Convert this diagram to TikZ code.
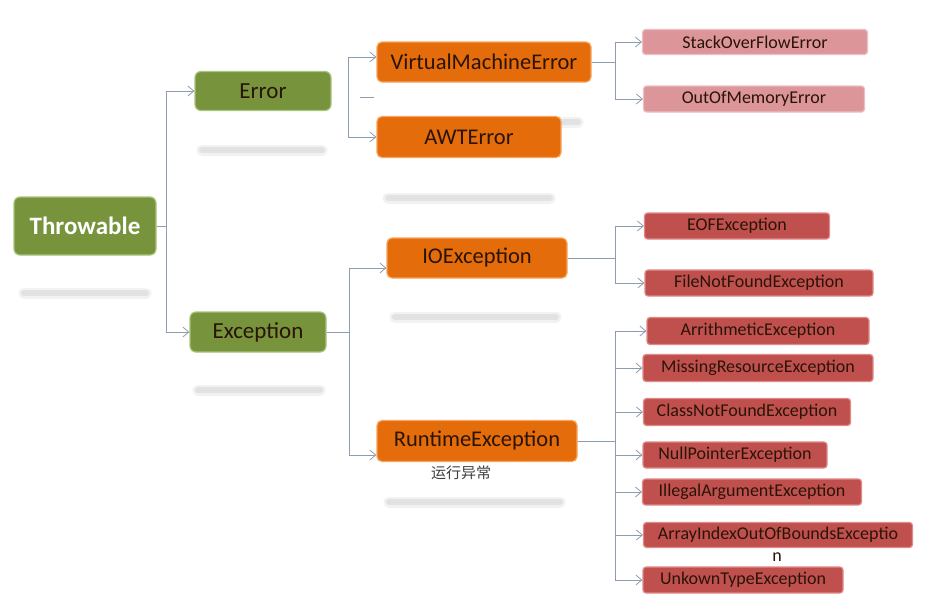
\documentclass[tikz,border=0pt]{standalone}
\usepackage{fontspec}
\setmainfont{Carlito}
\newfontfamily\cjk{Noto Sans CJK SC}
\usetikzlibrary{arrows.meta}
\definecolor{grn}{HTML}{77933C}
\definecolor{grnb}{HTML}{A9C47F}
\definecolor{org}{HTML}{E46C0A}
\definecolor{orgb}{HTML}{F7A35C}
\definecolor{redb}{HTML}{C0504D}
\definecolor{redl}{HTML}{E08A88}
\definecolor{pnk}{HTML}{DC9599}
\definecolor{pnkb}{HTML}{ECC0C2}
\definecolor{lnk}{HTML}{8D9CB0}
\definecolor{txd}{HTML}{2A1408}
\definecolor{shd}{HTML}{E2E2E2}
\tikzset{
  box/.style={draw, line width=1.2pt, inner sep=0pt, align=center},
  gbox/.style={box, fill=grn, draw=grnb, rounded corners=6pt, font=\fontsize{23}{25}\selectfont, text=txd},
  obox/.style={box, fill=org, draw=orgb, rounded corners=5pt, font=\fontsize{22.5}{24}\selectfont, text=txd},
  rbox/.style={box, fill=redb, draw=redl, rounded corners=3pt, font=\fontsize{18}{20}\selectfont, text=txd},
  pbox/.style={box, fill=pnk, draw=pnkb, rounded corners=3pt, font=\fontsize{18}{20}\selectfont, text=txd},
  arr/.style={draw=lnk, line width=0.8pt, -{Straight Barb[length=6pt,width=10pt]}},
  ln/.style={draw=lnk, line width=0.8pt},
  shadowline/.style={line cap=round},
}
\newcommand{\shadowbar}[3]{%
  \draw[shadowline, line width=11pt, shd!45] (#1,#3) -- (#2,#3);
  \draw[shadowline, line width=6pt, shd] (#1,#3) -- (#2,#3);
}
\begin{document}
\begin{tikzpicture}[x=1pt,y=-1pt]
\useasboundingbox[fill=white] (0,0) rectangle (925,597);
% shadows
\shadowbar{24}{146}{293}
\shadowbar{202}{322}{150}
\shadowbar{388}{550}{198}
\shadowbar{558}{578}{122}
\shadowbar{198}{320}{390}
\shadowbar{395}{556}{317}
\shadowbar{389}{560}{502}
% green
\node[gbox, minimum width=142pt, minimum height=58pt, text=white, font=\fontsize{25}{27}\selectfont\bfseries] (thr) at (85,226) {Throwable};
\node[gbox, minimum width=136pt, minimum height=39pt] (err) at (263,91) {Error};
\node[gbox, minimum width=136pt, minimum height=40pt] (exc) at (258,332) {Exception};
% orange
\node[obox, minimum width=214pt, minimum height=40pt] (vme) at (484,62) {VirtualMachineError};
\node[obox, minimum width=184pt, minimum height=41pt] (awt) at (469,137) {AWTError};
\node[obox, minimum width=180pt, minimum height=40pt] (io) at (477,258) {IOException};
\node[obox, minimum width=200pt, minimum height=41pt] (rt) at (477,441) {RuntimeException};
\node[font=\cjk\fontsize{15}{17}\selectfont, text=black!75] (rtl) at (461,473) {运行异常};
% pink
\node[pbox, minimum width=225pt, minimum height=25pt] (sof) at (755,42) {StackOverFlowError};
\node[pbox, minimum width=221pt, minimum height=26pt] (oom) at (754,99) {OutOfMemoryError};
% red
\node[rbox, minimum width=185pt, minimum height=26pt] (eof) at (737,226) {EOFException};
\node[rbox, minimum width=228pt, minimum height=26pt] (fnf) at (759,283) {FileNotFoundException};
\node[rbox, minimum width=222pt, minimum height=27pt] (ari) at (758,331) {ArrithmeticException};
\node[rbox, minimum width=230pt, minimum height=27pt] (mis) at (758,368) {MissingResourceException};
\node[rbox, minimum width=207pt, minimum height=27pt] (cnf) at (747,412) {ClassNotFoundException};
\node[rbox, minimum width=184pt, minimum height=26pt] (npe) at (735,455) {NullPointerException};
\node[rbox, minimum width=219pt, minimum height=26pt] (iae) at (752,492) {IllegalArgumentException};
\node[rbox, minimum width=269pt, minimum height=25pt] (aio) at (778,535) {ArrayIndexOutOfBoundsExceptio};
\node[font=\fontsize{18}{20}\selectfont, text=txd] (aion) at (777,557) {n};
\node[rbox, minimum width=200pt, minimum height=26pt] (ute) at (743,580) {UnkownTypeException};
% connectors
\draw[arr] (thr.east) -- ++(10,0) |- (err.west);
\draw[arr] (thr.east) ++(10,0) |- (exc.west);
\coordinate (vt) at (348,57);
\draw[arr] (vt) -- (vt -| vme.west);
\draw[arr] (vt) |- (awt.west);
\coordinate (d1) at (360,97);
\coordinate (d2) at (374,97);
\draw[ln] (d1) -- (d2);
\draw[arr] (vme.east) -- ++(24,0) |- (sof.west);
\draw[arr] (vme.east) ++(24,0) |- (oom.west);
\draw[arr] (exc.east) -- ++(23,0) |- ([yshift=-10pt]io.west);
\draw[arr] (exc.east) ++(23,0) |- ([yshift=-14pt]rt.west);
\draw[arr] (io.east) -- ++(48,0) |- (eof.west);
\draw[arr] (io.east) ++(48,0) |- (fnf.west);
\coordinate (rv) at (615,441);
\draw[ln] (rt.east) -- (rv);
\foreach \t in {ari,mis,cnf,npe,iae,aio,ute}{
  \draw[arr] (rv) |- (\t.west);
}
\end{tikzpicture}
\end{document}
